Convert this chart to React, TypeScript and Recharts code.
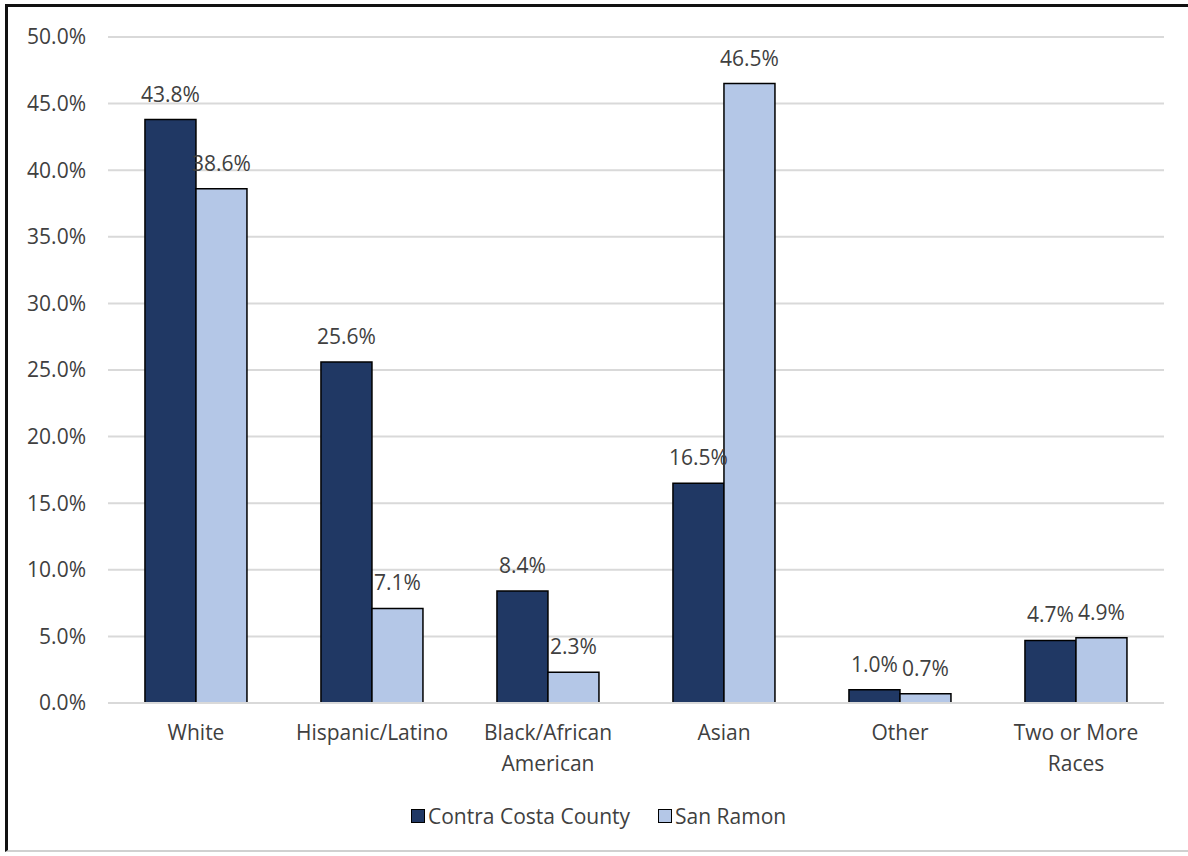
import { BarChart, Bar, XAxis, YAxis, CartesianGrid, Legend, LabelList } from 'recharts';

const categories = ['White', 'Hispanic/Latino', 'Black/African American', 'Asian', 'Other', 'Two or More Races'];
const contraCosta = [43.8, 25.6, 8.4, 16.5, 1.0, 4.7];
const sanRamon = [38.6, 7.1, 2.3, 46.5, 0.7, 4.9];
const yTicks = [0, 5, 10, 15, 20, 25, 30, 35, 40, 45, 50];

// two-line splits used by the category axis
const tickLines: Record<string, string[]> = {
  'Black/African American': ['Black/African', 'American'],
  'Two or More Races': ['Two or More', 'Races'],
};

const DARK = '#203864';
const LIGHT = '#B4C7E7';
const FONT = '"Open Sans", sans-serif';
const TEXT = '#404040';
const SIZE = 21;

const data = categories.map((name, i) => ({
  name,
  county: contraCosta[i],
  city: sanRamon[i],
}));

const CategoryTick = ({ x, y, payload }: any) => {
  const lines = tickLines[payload.value] ?? [payload.value];
  return (
    <text x={x} y={y} textAnchor="middle" fill={TEXT} fontSize={SIZE} fontFamily={FONT}>
      {lines.map((line, i) => (
        <tspan key={i} x={x} dy={i === 0 ? 29 : 31}>
          {line}
        </tspan>
      ))}
    </text>
  );
};

const LegendContent = () => (
  <div
    style={{
      height: 40,
      display: 'flex',
      alignItems: 'center',
      paddingLeft: 411,
      fontFamily: FONT,
      fontSize: SIZE,
      color: TEXT,
    }}
  >
    {[
      { label: 'Contra Costa County', color: DARK },
      { label: 'San Ramon', color: LIGHT },
    ].map((item) => (
      <span key={item.label} style={{ display: 'flex', alignItems: 'center', marginRight: 28 }}>
        <span
          style={{
            display: 'inline-block',
            width: 12,
            height: 12,
            background: item.color,
            border: '1.5px solid #000',
            marginRight: 3,
          }}
        />
        {item.label}
      </span>
    ))}
  </div>
);

const pct = (v: any) => `${Number(v).toFixed(1)}%`;

export default function App() {
  return (
    <div style={{ position: 'absolute', left: 0, top: 0, width: 1188, height: 856, background: '#fff' }}>
      <div
        style={{
          position: 'absolute',
          left: 5,
          top: 4,
          width: 1183,
          height: 848,
          borderTop: '3px solid #111',
          borderLeft: '3px solid #111',
          borderBottom: '2px solid #d0d0d0',
          boxSizing: 'border-box',
        }}
      />
      <BarChart
        width={1188}
        height={856}
        data={data}
        margin={{ top: 37, right: 24, left: 0, bottom: 20 }}
        barCategoryGap="21%"
        barGap={0}
        style={{ position: 'absolute', left: 0, top: 0 }}
      >
        <CartesianGrid vertical={false} stroke="#d9d9d9" strokeWidth={2} />
        <XAxis
          dataKey="name"
          height={93}
          tick={<CategoryTick />}
          tickLine={false}
          axisLine={{ stroke: '#d9d9d9', strokeWidth: 2 }}
          interval={0}
        />
        <YAxis
          width={108}
          domain={[0, 50]}
          ticks={yTicks}
          tickFormatter={pct}
          tickLine={false}
          tickSize={0}
          tickMargin={22}
          axisLine={false}
          tick={{ fill: TEXT, fontSize: SIZE, fontFamily: FONT }}
        />
        <Legend verticalAlign="bottom" content={<LegendContent />} />
        <Bar dataKey="county" name="Contra Costa County" fill={DARK} stroke="#000" strokeWidth={1.5} isAnimationActive={false}>
          <LabelList dataKey="county" position="top" offset={18} formatter={pct} fill={TEXT} fontSize={SIZE} fontFamily={FONT} />
        </Bar>
        <Bar dataKey="city" name="San Ramon" fill={LIGHT} stroke="#000" strokeWidth={1.5} isAnimationActive={false}>
          <LabelList dataKey="city" position="top" offset={18} formatter={pct} fill={TEXT} fontSize={SIZE} fontFamily={FONT} />
        </Bar>
      </BarChart>
    </div>
  );
}
